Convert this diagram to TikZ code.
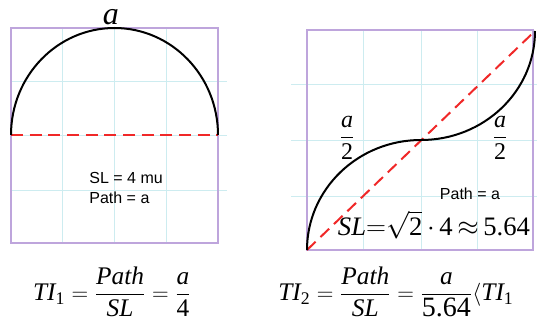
\documentclass[tikz,border=0pt]{standalone}
\usepackage{amsmath}
\usepackage{fontspec}
\newfontfamily\arialfont{Liberation Sans}
\newfontfamily\tnr{Liberation Serif}
\newcommand{\vit}[1]{\text{\tnr\itshape #1}}
\newcommand{\vup}[1]{\text{\tnr #1}}
\definecolor{boxpurple}{RGB}{190,165,220}
\definecolor{gridcyan}{RGB}{205,236,240}
\definecolor{dashred}{RGB}{240,40,40}
\tikzset{every path/.style={semithick},
  frame/.style={draw=boxpurple, line width=1pt},
  gridline/.style={draw=gridcyan, line width=0.6pt},
  chord/.style={draw=dashred, line width=1.5pt, dash pattern=on 9pt off 5pt},
  route/.style={draw=black, line width=1.5pt},
  sanslabel/.style={font=\arialfont\fontsize{12}{15}\selectfont, align=left, inner sep=0pt},
  mathlabel/.style={font=\fontsize{19}{22}\selectfont, inner sep=0pt}}

\begin{document}
\begin{tikzpicture}[x=0.75pt, y=-0.75pt]
    \useasboundingbox (0,0) rectangle (537,324);

    % half circle over the straight line
    \foreach \gx in {62,114,166} \draw[gridline] (\gx,28) -- (\gx,243);
    \foreach \gy in {81,135,190} \draw[gridline] (11,\gy) -- (227,\gy);
    \draw[frame] (11,28) rectangle (218,243);
    \draw[chord] (11,135) -- (218,135);
    \draw[route] (11,135) arc[start angle=180, end angle=360, x radius=103.5, y radius=107];

    \node[font=\fontsize{24}{24}\selectfont, inner sep=0pt] (arclabel) at (111,17) {$\vit{a}$};
    \node[sanslabel, anchor=west] (leftnote) at (89,188) {SL = 4 mu\\Path = a};

    % s-curve over the diagonal
    \foreach \gx in {363,421,477} \draw[gridline] (\gx,30) -- (\gx,250);
    \foreach \gy in {84,140,196} \draw[gridline] (291,\gy) -- (537,\gy);
    \draw[frame] (307,30) rectangle (533,250);
    \draw[chord] (307,250) -- (535,31);
    \draw[route] (307,250) arc[start angle=180, end angle=270, x radius=114, y radius=110]
      arc[start angle=90, end angle=0, x radius=114, y radius=109];

    \node[mathlabel, font=\fontsize{18}{20}\selectfont] (halfleft) at (347,138) {$\dfrac{\vit{a}}{\vup{2}}$};
    \node[mathlabel, font=\fontsize{18}{20}\selectfont] (halfright) at (500,138) {$\dfrac{\vit{a}}{\vup{2}}$};
    \node[sanslabel] (rightnote) at (470,194) {Path = a};
    \node[mathlabel, font=\fontsize{20}{24}\selectfont] (sllabel) at (434,225)
      {$\vit{SL}{=}\sqrt{\vup{2}}\,{\cdot}\,\vup{4}\,{\approx}\,\vup{5.64}$};

    % the two ratios
    \node[mathlabel] (tione) at (112,292) {$\vit{TI}_{\vup{1}}=\dfrac{\vit{Path}}{\vit{SL}}=\dfrac{\vit{a}}{\vup{4}}$};
    \node[mathlabel, anchor=west] (titwo) at (278,292)
      {$\vit{TI}_{\vup{2}}=\dfrac{\vit{Path}}{\vit{SL}}=\dfrac{\vit{a}}{\vup{\fontsize{21}{24}\selectfont 5.64}}\langle\vit{TI}_{\vup{1}}$};
\end{tikzpicture}
\end{document}
